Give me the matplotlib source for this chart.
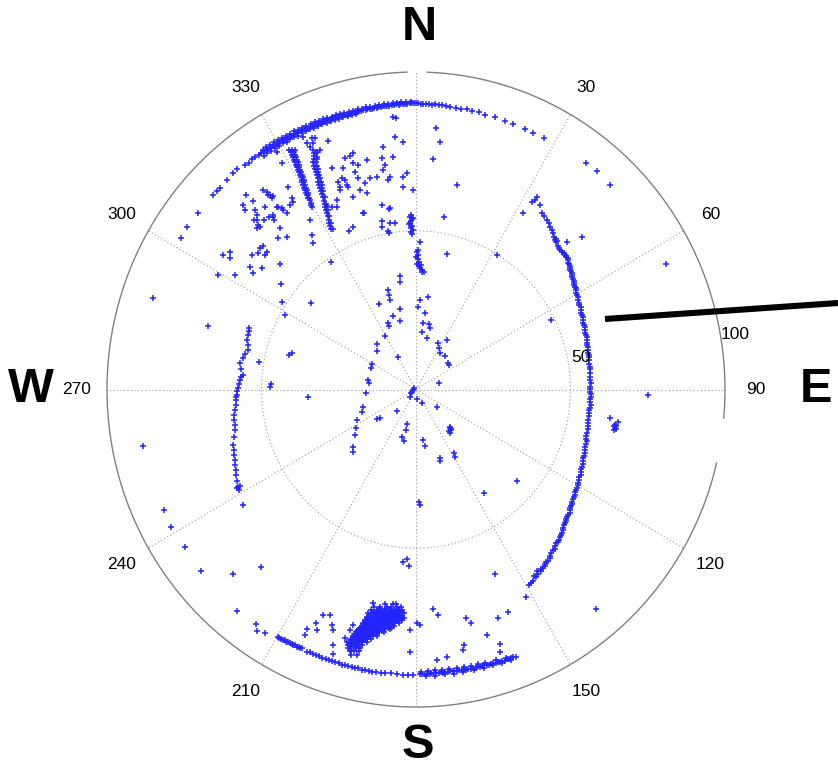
import numpy as np
import matplotlib
matplotlib.use("Agg")
import matplotlib.pyplot as plt
from matplotlib.lines import Line2D

plt.rcParams["font.family"] = ["Liberation Sans", "DejaVu Sans"]

# ---------------------------------------------------------------------------
# Radar echoes.  Tracks along rings are stored as (bearing deg, range);
# clutter and blobs are stored as (east, north) offsets in range units.
# ---------------------------------------------------------------------------
north_arc = [
    (-34.0, 89.7), (-33.5, 89.4), (-33.1, 89.8), (-32.6, 89.5), (-32.2, 89.7), (-31.7, 89.3),
    (-31.2, 89.6), (-30.8, 89.8), (-30.3, 89.4), (-29.9, 89.6), (-29.4, 89.5), (-28.9, 89.7),
    (-28.5, 89.3), (-28.0, 89.6), (-27.6, 89.5), (-27.1, 89.7), (-26.6, 89.4), (-26.2, 89.6),
    (-25.7, 89.5), (-25.3, 89.3), (-24.8, 89.6), (-24.3, 89.4), (-23.9, 89.6), (-23.4, 89.5),
    (-23.0, 89.3), (-22.5, 89.5), (-22.0, 89.4), (-21.6, 89.6), (-21.1, 89.3), (-20.7, 89.5),
    (-20.2, 89.4), (-19.7, 89.6), (-19.3, 89.3), (-18.8, 89.5), (-18.4, 89.4), (-17.9, 89.3),
    (-17.4, 89.5), (-17.0, 89.4), (-16.5, 89.6), (-16.1, 89.3), (-15.6, 89.5), (-15.1, 89.4),
    (-14.7, 89.5), (-14.2, 89.3), (-13.8, 89.5), (-13.3, 89.4), (-12.8, 89.6), (-12.4, 89.4),
    (-11.9, 89.5), (-11.5, 89.4), (-11.0, 89.6), (-10.5, 89.5), (-10.1, 89.7), (-9.6, 89.5),
    (-9.2, 89.6), (-8.7, 89.7), (-8.2, 89.6), (-7.8, 89.8), (-7.3, 89.7), (-6.9, 89.8),
    (-6.4, 89.7), (-5.9, 89.9), (-5.5, 89.8), (-5.0, 89.9), (-4.6, 89.8), (-4.1, 90.0),
    (-3.6, 89.9), (-3.2, 90.0), (-2.7, 90.1), (-2.3, 90.0), (-1.8, 90.1), (-1.3, 90.2),
    (-0.9, 90.1), (-0.4, 90.2), (0.0, 90.2), (0.4, 90.1),
]
north_arc_inner = [
    (-33.8, 88.6), (-32.9, 88.8), (-31.9, 88.5), (-31.0, 88.7), (-30.1, 88.6), (-29.1, 88.8),
    (-28.2, 88.6), (-27.3, 88.7), (-26.4, 88.8), (-25.5, 88.6), (-24.5, 88.8), (-23.6, 88.7),
    (-22.7, 88.9), (-21.8, 88.7), (-20.9, 88.8), (-19.9, 88.9), (-19.0, 88.7), (-18.1, 88.9),
    (-17.2, 88.8), (-16.3, 88.9), (-15.3, 89.0), (-14.4, 88.9), (-13.5, 89.0), (-12.5, 89.0),
]
north_arc_outer = [
    (-33.3, 90.2), (-32.4, 90.4), (-31.5, 90.3), (-30.5, 90.4), (-29.6, 90.2), (-28.7, 90.4),
    (-27.8, 90.3), (-26.9, 90.2), (-25.9, 90.4), (-25.0, 90.3), (-24.1, 90.2), (-23.2, 90.3),
    (-22.2, 90.2), (-21.3, 90.3), (-20.4, 90.2), (-19.5, 90.3), (-18.6, 90.1), (-17.6, 90.2),
    (-16.7, 90.1), (-15.8, 90.2), (-14.9, 90.1), (-13.9, 90.2), (-13.0, 90.1), (-12.1, 90.2),
    (-11.2, 90.2), (-10.3, 90.3), (-9.4, 90.2), (-8.5, 90.3), (-7.6, 90.3), (-6.6, 90.4),
    (-5.7, 90.4), (-4.8, 90.5), (-3.9, 90.5), (-3.0, 90.6), (-2.0, 90.6), (-1.1, 90.6),
]
northeast_arc = [
    (1.0, 90.0), (1.5, 89.9), (2.1, 90.0), (2.6, 89.9), (3.3, 89.8), (3.9, 90.0), (4.7, 89.8),
    (5.4, 89.9), (6.3, 89.7), (7.1, 89.8), (8.2, 89.7), (9.4, 89.6), (10.5, 89.7), (11.7, 89.5),
    (13.1, 89.6), (14.5, 89.4), (16.7, 89.5), (18.8, 89.4), (20.5, 89.3), (23.3, 89.4),
    (25.2, 89.2), (27.6, 89.3),
]
northwest_tail = [
    (-34.6, 89.6), (-35.3, 89.9), (-36.2, 89.8), (-37.1, 89.6), (-38.0, 89.8), (-39.8, 90.3),
    (-41.0, 90.2), (-42.8, 90.0), (-44.9, 89.7), (-45.9, 89.7), (-47.0, 89.9), (-51.8, 89.9),
    (-55.4, 90.1), (-57.9, 89.8),
]
south_arc = [
    (159.0, 90.2), (159.5, 90.0), (160.0, 89.9), (160.4, 90.1), (160.9, 89.9), (161.4, 90.1),
    (161.9, 89.9), (162.4, 90.0), (162.8, 89.8), (163.3, 90.0), (163.8, 89.8), (164.3, 89.7),
    (164.8, 89.9), (165.2, 89.7), (165.7, 89.6), (166.2, 89.8), (166.7, 89.7), (167.2, 89.5),
    (167.6, 89.8), (168.1, 89.6), (168.6, 89.8), (169.1, 89.5), (169.6, 89.7), (170.0, 89.4),
    (170.5, 89.7), (171.0, 89.5), (171.5, 89.8), (172.0, 89.4), (172.4, 89.6), (172.9, 89.5),
    (173.4, 89.7), (173.9, 89.4), (174.4, 89.6), (174.8, 89.5), (175.3, 89.7), (175.8, 89.4),
    (176.3, 89.6), (176.8, 89.5), (177.2, 89.7), (177.7, 89.6), (178.2, 89.7), (178.7, 89.6),
    (179.1, 89.7),
    (161.0, 89.3), (163.0, 89.1), (165.5, 88.9), (167.0, 88.8), (168.5, 88.9), (170.0, 88.7),
    (171.5, 88.8), (173.0, 88.7), (174.5, 88.8), (176.0, 88.7), (177.5, 88.8), (179.0, 88.9),
    (160.2, 90.6), (162.1, 90.5), (164.0, 90.4), (166.0, 90.4), (168.0, 90.3), (170.2, 90.3),
    (172.2, 90.3), (174.1, 90.2), (176.1, 90.3), (178.0, 90.3),
    (180.6, 89.9), (181.6, 89.8), (182.7, 90.0), (183.9, 89.9), (185.2, 89.8), (186.4, 90.0),
    (187.3, 89.9), (188.2, 89.8), (189.0, 90.0), (189.8, 89.9), (190.6, 89.8), (191.3, 90.0),
    (192.0, 89.8), (192.7, 89.9), (193.4, 89.7), (194.1, 89.9), (194.8, 89.8), (195.5, 89.9),
    (196.2, 89.7), (196.9, 89.8), (197.6, 89.7), (198.3, 89.9), (199.0, 89.7), (199.7, 89.8),
    (200.4, 89.6), (201.1, 89.8), (201.8, 89.7), (202.5, 89.6), (203.2, 89.8),
    (204.3, 89.5), (204.7, 89.7), (205.1, 89.5), (205.5, 89.7), (205.9, 89.6), (206.3, 89.8),
    (206.7, 89.6), (207.1, 89.8), (207.5, 89.7), (207.9, 89.9), (208.3, 89.7), (208.7, 89.9),
    (209.1, 89.8), (209.5, 90.0), (209.9, 89.9),
]

east_track = [
    (39.2, 60.6), (37.5, 59.1), (38.6, 59.6), (40.1, 58.2), (34.6, 55.6), (40.8, 55.6),
    (41.5, 54.5), (42.4, 53.4), (42.9, 52.3), (43.4, 51.2), (43.9, 50.2), (44.3, 49.3),
    (44.8, 48.1), (45.0, 47.1), (45.3, 46.3), (45.6, 46.9), (45.2, 47.5), (46.1, 45.2),
    (46.6, 43.9), (47.4, 43.2), (48.2, 42.4), (48.7, 41.6), (49.2, 40.8), (49.5, 39.5),
    (49.8, 38.3), (50.2, 37.2), (50.5, 36.1), (50.8, 34.8), (51.1, 33.5), (51.5, 32.4),
    (51.8, 31.3), (52.1, 29.8), (52.4, 28.2), (52.9, 26.6), (53.4, 25.0), (53.7, 23.5),
    (54.0, 21.9), (54.4, 20.3), (54.7, 18.7), (55.0, 17.2), (55.3, 15.6), (55.5, 14.0),
    (55.7, 12.4), (55.9, 10.8), (56.0, 9.3), (56.2, 7.2), (56.3, 5.2), (56.3, 3.0),
    (56.4, 0.8), (56.3, -0.8), (56.6, -2.4), (56.4, -4.0), (56.2, -5.7), (56.0, -7.4),
    (55.8, -9.5), (55.6, -11.6), (55.3, -13.7), (55.1, -15.5), (54.9, -17.3), (54.7, -19.1),
    (54.4, -20.9), (54.0, -22.6), (53.7, -24.4), (53.3, -26.1), (52.9, -27.7), (52.4, -29.4),
    (52.0, -30.9), (51.5, -32.4), (51.1, -33.9), (50.6, -35.3), (50.2, -36.6), (49.8, -38.0),
    (49.2, -39.4), (48.7, -40.7), (48.2, -42.0), (47.6, -43.5), (47.1, -45.1), (46.6, -46.6),
    (45.8, -48.0), (45.1, -49.3), (44.3, -50.7), (43.5, -52.3), (42.7, -53.9), (41.9, -55.0),
    (41.1, -56.1), (40.3, -57.1), (39.5, -58.0), (38.7, -59.1), (37.9, -60.2), (37.2, -61.0),
    (36.6, -61.7), (38.3, -58.8), (39.0, -57.3),
    (46.3, 44.6), (47.1, 43.4), (47.9, 42.9), (48.4, 41.9), (49.1, 41.3), (49.3, 40.0),
    (49.8, 38.8), (49.9, 37.6), (50.5, 36.7), (50.6, 35.3), (51.1, 34.2), (51.2, 32.8),
    (51.8, 31.9), (51.9, 30.4), (52.4, 29.1), (52.6, 27.3), (53.3, 25.9), (53.5, 24.1),
    (54.0, 22.8), (54.1, 21.0), (54.7, 19.6), (54.8, 17.8), (55.3, 16.5), (55.3, 14.7),
    (55.8, 13.3), (55.7, 11.5), (56.1, 10.1), (56.0, 8.1), (56.4, 6.3), (56.2, 4.0),
    (56.6, 2.0), (56.3, 0.1), (56.7, -1.5), (56.4, -3.1), (56.5, -4.9), (56.0, -6.4),
    (56.1, -8.5), (55.6, -10.6), (55.7, -12.5), (55.1, -14.6), (55.2, -16.3), (54.7, -18.2),
    (54.8, -20.1), (54.1, -21.6), (54.1, -23.6), (53.4, -25.1), (53.3, -27.0), (52.6, -28.4),
    (52.4, -30.2), (51.7, -31.5), (51.5, -33.2), (50.8, -34.5), (50.6, -36.0), (49.9, -37.2),
    (49.7, -38.8), (48.9, -40.0), (48.7, -41.4), (47.8, -42.6), (47.6, -44.4), (46.8, -45.7),
    (46.4, -47.3), (45.4, -48.5), (44.9, -50.1), (43.8, -51.4), (43.3, -53.2), (42.2, -54.3),
    (41.6, -55.6), (40.6, -56.5),
]
west_track = [
    (-54.0, 19.4), (-54.2, 18.3), (-54.4, 17.2), (-54.7, 15.6), (-54.5, 14.0), (-54.4, 12.4),
    (-55.2, 11.2), (-56.0, 9.9), (-57.0, 8.3), (-56.6, 6.5), (-56.0, 4.6), (-56.5, 3.8),
    (-57.0, 3.0), (-57.3, 1.8), (-57.6, 0.5), (-57.8, -0.6), (-57.9, -1.7), (-58.1, -2.5),
    (-58.3, -3.3), (-58.4, -5.0), (-58.6, -6.5), (-58.8, -8.0), (-58.9, -9.6), (-58.7, -11.2),
    (-58.6, -12.8), (-58.9, -15.0), (-59.2, -17.5), (-59.0, -19.0), (-58.9, -20.6),
    (-58.7, -22.2), (-58.6, -23.8), (-58.4, -25.3), (-58.3, -26.9), (-57.9, -28.8),
    (-57.6, -30.7), (-57.3, -31.7), (-57.9, -31.0), (-56.9, -30.4),
]

# two slanted streaks north-west: one row of east offsets per north value
streak1_north = [75.5, 74.8, 74.0, 73.2, 72.4, 71.6, 70.8, 70.0, 69.2, 68.4, 67.6, 66.8,
                 66.0, 65.2, 64.4, 63.6, 62.8, 62.0, 61.2, 60.4, 59.6, 58.8, 58.0, 57.4]
streak1_east = [[-41.0, -40.1, -39.3], [-40.6, -39.6], [-40.2, -39.3], [-39.8, -38.9],
                [-39.5, -38.6], [-39.2, -38.3], [-38.9, -38.0], [-38.6, -37.8], [-38.3, -37.5],
                [-38.0, -37.3], [-37.7, -37.0], [-37.3, -36.7], [-37.0, -36.4], [-36.8, -36.2],
                [-36.5, -35.9], [-36.2, -35.7], [-35.9, -35.4], [-35.5, -35.1], [-35.2, -34.8],
                [-34.9, -34.6], [-34.4], [-34.1], [-33.9], [-33.7]]
streak2_north = [75.5, 74.5, 73.5, 72.5, 71.5, 70.5, 69.5, 68.5, 67.5, 66.5, 65.5, 64.5, 63.5,
                 62.5, 61.5, 60.5, 59.5, 58.5, 57.5, 56.5, 55.5, 54.5, 53.5, 52.5, 51.5, 50.5]
streak2_east = [[-33.4], [-33.0, -32.4], [-33.1], [-32.9, -32.2], [-33.2, -32.3], [-32.9, -32.1],
                [-32.6, -31.8], [-32.4, -31.6], [-32.1, -31.3], [-31.8, -31.0], [-31.6, -30.8],
                [-31.3, -30.5], [-31.0, -30.3], [-30.8, -30.0], [-30.5], [-30.2, -29.6], [-29.9],
                [-29.6, -29.0], [-29.4], [-29.1, -28.5], [-28.9], [-28.6, -28.0], [-28.3],
                [-28.0, -27.6], [-27.8], [-27.5, -27.0]]

# dense blob south of the origin (main rows, interleaved rows and core fill)
blob_north = [-67.5, -68.5, -69.5, -70.5, -71.5, -72.5, -73.5, -74.5, -75.5, -76.5, -77.5,
              -78.5, -79.5, -80.5, -81.5, -82.5, -83.5]
blob_east = [
    [-10.0, -7.5, -6.5],
    [-13.5, -11.5, -9.5, -8.0, -6.0, -5.0],
    [-14.5, -12.5, -11.0, -9.5, -8.5, -7.0, -5.5, -4.5],
    [-15.5, -14.0, -12.5, -11.5, -10.5, -9.5, -8.5, -7.5, -6.5, -5.5, -4.0],
    [-16.0, -15.0, -13.5, -12.5, -11.5, -10.5, -9.5, -8.5, -7.5, -6.5, -5.5, -4.5],
    [-16.5, -15.5, -14.5, -13.0, -12.0, -11.0, -10.0, -9.0, -8.0, -7.0, -6.0, -4.5],
    [-17.0, -16.0, -15.0, -14.0, -13.0, -12.0, -11.0, -10.0, -9.0, -8.0, -7.0, -5.5],
    [-17.5, -16.5, -15.5, -14.5, -13.5, -12.5, -11.5, -10.5, -9.5, -8.5, -7.0],
    [-18.5, -17.5, -16.5, -15.5, -14.5, -13.5, -12.5, -11.5, -10.0, -8.5],
    [-19.5, -18.0, -17.0, -16.0, -15.0, -14.0, -13.0, -12.0, -10.5],
    [-20.5, -19.0, -18.0, -17.0, -16.0, -15.0, -14.0, -12.5],
    [-21.0, -20.0, -19.0, -18.0, -17.0, -16.0, -14.5],
    [-21.5, -20.5, -19.5, -18.5, -17.5, -16.0],
    [-22.0, -21.0, -20.0, -19.0, -17.5],
    [-22.0, -21.0, -19.5, -18.0],
    [-21.5, -20.0, -18.5],
    [-21.0, -19.0],
]
blob_core_north = [-69.0, -70.0, -71.0, -72.0, -73.0, -74.0, -75.0, -76.0, -77.0, -78.0,
                   -79.0, -80.0, -81.0, -82.0]
blob_core_east = [
    [-12.0, -10.0, -8.0, -6.0],
    [-13.0, -11.0, -9.0, -7.0, -5.0, -14.0, -12.0, -10.0, -8.0, -6.0],
    [-15.0, -13.0, -11.0, -9.0, -7.0, -5.0, -14.0, -12.0, -10.0, -8.0, -6.0],
    [-16.0, -14.0, -12.0, -10.0, -8.0, -6.0, -4.0, -15.0, -13.0, -11.0, -9.0, -7.0, -5.0],
    [-16.5, -14.5, -12.5, -10.5, -8.5, -6.5, -15.5, -13.5, -11.5, -9.5, -7.5, -5.5],
    [-17.0, -15.0, -13.0, -11.0, -9.0, -7.5, -16.0, -14.0, -12.0, -10.0, -8.5],
    [-18.0, -16.0, -14.0, -12.0, -10.0, -8.0, -17.0, -15.0, -13.0, -11.0, -9.0],
    [-19.0, -17.0, -15.0, -13.0, -11.0, -18.0, -16.0, -14.0, -12.0],
    [-20.0, -18.5, -16.5, -14.5, -12.5, -19.0, -17.5, -15.5, -13.5],
    [-20.5, -19.0, -17.5, -15.5, -20.0, -18.0, -16.5],
    [-21.0, -19.5, -18.0, -16.5, -20.0, -18.5, -17.0],
    [-21.5, -20.0, -18.5, -21.0, -19.0],
    [-21.5, -19.5],
    [-21.0],
]

northwest_clutter = [
    (-45.0, 74.8), (-43.4, 71.3), (-36.6, 79.5), (-35.3, 77.6), (-33.7, 79.2), (-32.0, 74.8),
    (-31.1, 75.4), (-28.5, 78.3), (-23.9, 66.6), (-23.6, 69.8), (-22.3, 64.4), (-24.6, 62.8),
    (-25.6, 59.7), (-27.2, 57.5), (-41.4, 63.8), (-40.1, 60.3), (-39.8, 59.1), (-40.8, 58.1),
    (-43.0, 56.5), (-41.7, 55.6), (-44.0, 50.9), (-41.7, 48.0), (-44.7, 47.7), (-48.2, 62.2),
    (-47.2, 61.3), (-46.6, 60.3), (-46.3, 60.9), (-55.0, 61.3), (-52.8, 59.4), (-56.0, 58.1),
    (-55.3, 56.5), (-52.1, 56.5), (-51.5, 55.0), (-52.4, 53.4), (-51.1, 51.8), (-51.5, 50.9),
    (-50.5, 51.2), (-49.2, 53.4), (-47.6, 54.3), (-46.3, 54.9), (-46.0, 53.4), (-44.7, 57.5),
    (-50.5, 44.6), (-49.5, 45.2), (-48.2, 43.3), (-48.9, 42.4), (-51.1, 43.0), (-53.1, 42.4),
    (-49.8, 38.3), (-53.7, 38.6), (-52.8, 36.7), (-60.2, 43.3), (-62.5, 42.4), (-60.2, 41.4),
    (-64.1, 36.1), (-58.6, 36.1), (-44.0, 39.5), (-43.7, 33.2), (-43.4, 27.6), (-42.4, 23.5),
    (-33.7, 48.7), (-33.3, 46.1), (-34.3, 53.4), (-27.5, 40.2), (-34.0, 27.2), (-67.3, 20.0),
    (-85.1, 28.8), (-21.4, 73.5), (-25.2, 65.4), (-23.0, 72.9), (-20.4, 74.5), (-20.4, 71.3),
    (-18.8, 70.7), (-15.9, 72.3), (-11.0, 72.9), (-10.7, 76.4), (-7.4, 73.2), (-7.4, 85.8),
    (-6.8, 79.5), (-4.2, 78.0), (-27.2, 69.8), (-23.0, 66.0), (-24.6, 63.8), (-22.0, 63.8),
    (-19.7, 68.5), (-18.8, 66.6), (-16.5, 65.0), (-14.9, 66.6), (-12.6, 66.9), (-10.7, 69.1),
    (-10.0, 70.7), (-8.4, 66.9), (-9.1, 66.0), (-18.1, 62.8), (-15.9, 61.9), (-20.4, 60.6),
    (-11.0, 58.1), (-8.4, 57.2), (-17.2, 55.6), (-20.4, 51.2), (-11.0, 51.2), (-8.4, 52.4),
    (-4.2, 66.9), (-2.9, 68.2), (-4.2, 63.8), (-1.0, 62.8), (-28.8, 57.8), (-25.6, 57.5),
    (-49.5, 62.8), (-47.9, 61.3), (-48.9, 57.5), (-45.0, 57.5), (-43.4, 57.2), (-51.5, 53.4),
    (-46.3, 54.3), (-34.3, 76.4), (-33.3, 77.6), (-32.0, 73.2), (-32.7, 79.2), (-8.7, 56.9),
    (-11.0, 53.1), (-9.1, 49.9), (-8.7, 49.3), (-6.8, 52.4), (-16.8, 55.6), (-21.7, 49.9),
    (-6.5, 85.5),
]
east_clutter = [
    (6.5, 82.4), (7.8, 78.0), (5.5, 72.6), (13.3, 64.4), (9.1, 54.3), (10.0, 42.7),
    (26.2, 42.4), (55.0, 71.3), (58.6, 68.8), (62.8, 64.4), (53.7, 48.0), (48.9, 46.5),
    (80.9, 39.5), (43.7, 21.9), (75.1, -1.7), (62.8, -9.0), (65.4, -10.2), (64.0, -11.4),
    (64.6, -11.6), (64.3, -12.1), (64.8, -12.3), (64.1, -12.6), (64.5, -11.2), (32.7, -28.8),
    (35.6, -65.4), (29.8, -70.1), (58.3, -69.1), (22.0, -32.6), (25.6, -58.1),
]
center_dash_upper = [
    (-1.6, 55.0), (-1.9, 54.3), (-1.3, 53.6), (-1.6, 53.0), (-1.9, 52.3), (-1.3, 51.6),
    (-1.6, 51.0), (-1.0, 50.3), (-1.6, 49.7), (-1.3, 49.0), (-2.2, 52.0), (-0.9, 54.0),
]
center_dash_lower = [
    (0.3, 43.3), (0.6, 42.5), (0.0, 41.8), (0.6, 41.0), (1.0, 40.3), (0.3, 39.6),
    (0.9, 38.9), (1.3, 38.3), (1.9, 37.6), (0.6, 43.8), (1.6, 39.2), (2.5, 37.0),
]
center_clutter = [
    (1.3, 46.5), (1.9, 37.0), (1.3, 28.2), (0.6, 26.0), (3.9, 29.1), (2.9, 24.1),
    (-5.2, 35.7), (-5.2, 33.9), (-9.1, 31.3), (-8.7, 29.8), (-8.4, 28.2), (-12.0, 26.9),
    (-5.2, 25.4), (-7.4, 23.1), (-9.1, 20.9), (-8.7, 20.0), (-5.2, 21.6), (-10.0, 16.8),
    (-12.6, 14.3), (-12.6, 12.1), (-5.8, 10.2), (-14.2, 8.0), (-14.6, 6.8), (-15.5, 3.0),
    (-15.2, 2.0), (-16.2, -1.1), (-17.2, -5.5), (-17.5, -7.1), (-19.1, -9.6), (-19.4, -12.1),
    (-19.7, -14.3), (-20.4, -18.1), (-20.4, -19.7), (-1.3, -0.8), (-1.0, -0.2), (-1.9, -2.4),
    (-1.6, -1.1), (-0.6, 0.5), (0.3, -3.0), (1.9, -4.3), (-6.1, -6.8), (-11.7, -9.0),
    (-2.9, -10.9), (-3.2, -12.7), (-4.5, -15.0), (2.3, -15.9), (2.9, -17.8), (7.8, -21.6),
    (6.8, -5.5), (11.0, -11.8), (11.2, -12.4), (10.8, -13.0), (11.1, -13.6), (11.4, -12.9),
    (10.9, -12.2), (12.3, -20.0), (12.6, -21.3), (2.3, 20.9), (4.2, 20.6), (1.9, 18.1),
    (4.5, 19.4), (3.6, 16.2), (7.1, 14.6), (7.4, 13.1), (7.8, 11.5), (9.4, 10.5),
    (10.4, 8.3), (10.7, 7.7), (10.0, 15.6), (7.4, 2.0), (-3.9, -16.2), (-12.6, -9.3),
    (7.8, -22.5), (1.3, -36.4), (1.0, -35.4), (-2.9, -53.4), (-2.3, -55.6), (-4.2, -54.3),
]
west_clutter = [
    (-41.1, 10.9), (-35.0, -2.4), (-47.2, 0.8), (-50.8, 8.7), (-46.9, 1.7), (-40.1, 11.5),
    (-88.3, -17.8), (-81.6, -38.0), (-79.3, -43.3), (-74.8, -49.6), (-69.6, -57.2),
    (-59.2, -58.1), (-50.2, -55.8), (-57.9, -69.8), (-51.5, -76.1), (-48.9, -76.7),
    (-56.0, -36.4), (-51.8, -73.9),
]
south_clutter = [
    (-30.1, -71.0), (-27.8, -71.0), (-27.2, -74.2), (-26.9, -75.7), (-26.9, -80.5),
    (-13.9, -67.2), (-21.4, -75.7), (-20.4, -74.2), (-23.0, -78.2), (-22.3, -79.5),
    (-1.9, -75.7), (-1.9, -82.7), (0.3, -73.5), (1.3, -74.2), (5.5, -69.1), (7.1, -71.0),
    (26.5, -72.0), (23.0, -77.2), (27.2, -80.3), (27.2, -82.8), (-35.3, -75.5), (-35.9, -77.4),
    (-32.4, -73.5), (-32.0, -75.7), (-26.9, -83.3), (17.8, -73.5), (15.2, -82.2),
    (15.5, -80.5), (16.2, -72.0), (6.8, -85.2), (10.0, -84.3),
]

angle_ticks = [30, 60, 90, 120, 150, 210, 240, 270, 300, 330]
range_rings = [50, 100]


def polar_from_bearing(pairs):
    a = np.asarray(pairs, dtype=float)
    return np.radians(a[:, 0]), a[:, 1]


def polar_from_east_north(pairs):
    a = np.asarray(pairs, dtype=float)
    return np.arctan2(a[:, 0], a[:, 1]), np.hypot(a[:, 0], a[:, 1])


def rows_to_pairs(norths, easts):
    return [(e, n) for n, row in zip(norths, easts) for e in row]


W, H = 838, 768
fig = plt.figure(figsize=(W / 100, H / 100), dpi=100)
fig.patch.set_facecolor("white")
ax = fig.add_axes([107 / W, 61 / H, 618 / W, 635 / H], projection="polar")
ax.set_theta_zero_location("N")
ax.set_theta_direction(-1)
ax.set_aspect("auto")
ax.set_ylim(0, 100)
ax.grid(False)
ax.set_xticks([])
ax.set_yticks([])
ax.spines["polar"].set_visible(False)

# dotted spokes and inner ring
grid_kw = dict(color="#9a9a9a", lw=0.8, linestyle=(0, (1, 2.2)), zorder=1)
for a in range(0, 360, 30):
    ax.plot([np.radians(a)] * 2, [0, 100], **grid_kw)
full = np.linspace(0, 2 * np.pi, 721)
ax.plot(full, np.full_like(full, range_rings[0]), **grid_kw)

# outer ring (interrupted near north and just below east)
for b0, b1 in [(2.1, 95.2), (103.4, 358.3)]:
    t = np.radians(np.linspace(b0, b1, 400))
    ax.plot(t, np.full_like(t, range_rings[1]), color="#808080", lw=1.0,
            clip_on=False, zorder=2)

# echoes (all lie inside the outer ring, so no clipping is needed)
mk = dict(linestyle="none", marker="+", ms=5.0, mew=1.1, color="#2424ff",
          zorder=3, clip_on=False)
bearing_groups = [north_arc, north_arc_inner, north_arc_outer, northeast_arc,
                  northwest_tail, south_arc]
en_groups = [east_track, west_track,
             rows_to_pairs(streak1_north, streak1_east),
             rows_to_pairs(streak2_north, streak2_east),
             rows_to_pairs(blob_north, blob_east),
             rows_to_pairs(blob_core_north, blob_core_east),
             northwest_clutter, east_clutter, center_dash_upper, center_dash_lower,
             center_clutter, west_clutter, south_clutter]
for grp in bearing_groups:
    th, rr = polar_from_bearing(grp)
    ax.plot(th, rr, **mk)
for grp in en_groups:
    th, rr = polar_from_east_north(grp)
    ax.plot(th, rr, **mk)

# bearing labels
for a in angle_ticks:
    ax.text(np.radians(a), 110, str(a), ha="center", va="center",
            fontsize=12.5, color="black", clip_on=False)
# range labels
ax.text(np.radians(79.2), 54.4, "50", ha="center", va="center", fontsize=12.5,
        clip_on=False)
ax.text(np.radians(80.5), 104.6, "100", ha="center", va="center", fontsize=12.5,
        clip_on=False)

# compass letters
for s, (px, py) in {"N": (419, 28), "S": (418, 745), "W": (31, 390),
                    "E": (816, 390)}.items():
    fig.text(px / W, 1 - py / H, s, ha="center", va="center", fontsize=35,
             fontweight="bold", color="black")

# pointer line
fig.add_artist(Line2D([605 / W, 1.0], [1 - 319 / H, 1 - 303 / H], lw=4.4,
                      color="black", solid_capstyle="butt"))

fig.savefig("out.png", dpi=100, facecolor="white")
